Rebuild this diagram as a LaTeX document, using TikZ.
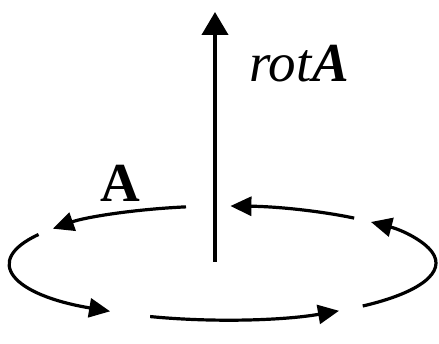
\documentclass[tikz,border=0pt]{standalone}
\usepackage{fontspec}
\setmainfont{Liberation Serif}
\usetikzlibrary{arrows.meta}
\begin{document}
\begin{tikzpicture}[x=1pt,y=1pt,
  ell/.style={line width=3.2pt,-{Triangle[length=21pt,width=19pt]}},
  axis/.style={line width=4pt,-{Triangle[length=23pt,width=26pt]}},
  lbl/.style={inner sep=0pt,anchor=base west,font=\fontsize{55}{60}\selectfont}]
\useasboundingbox (0,0) rectangle (439,344);
\coordinate (c) at (223,81);
\coordinate (base) at (215,82);
\coordinate (tip) at (215,332);
\draw[axis] (base) -- (tip);
\node[lbl] (rotA) at (249,262) {\textit{rot}\textbf{\textit{A}}};
\node[lbl] (A) at (100,142) {\textbf{A}};
\draw[ell] ([shift={(100:213pt and 57pt)}]c) arc[start angle=100,end angle=143,x radius=213pt,y radius=57pt];
\draw[ell] ([shift={(150:213pt and 57pt)}]c) arc[start angle=150,end angle=238,x radius=213pt,y radius=57pt];
\draw[ell] ([shift={(250:213pt and 57pt)}]c) arc[start angle=250,end angle=303,x radius=213pt,y radius=57pt];
\draw[ell] ([shift={(311:213pt and 57pt)}]c) arc[start angle=311,end angle=406,x radius=213pt,y radius=57pt];
\draw[ell] ([shift={(52:213pt and 57pt)}]c) arc[start angle=52,end angle=88,x radius=213pt,y radius=57pt];
\end{tikzpicture}
\end{document}
